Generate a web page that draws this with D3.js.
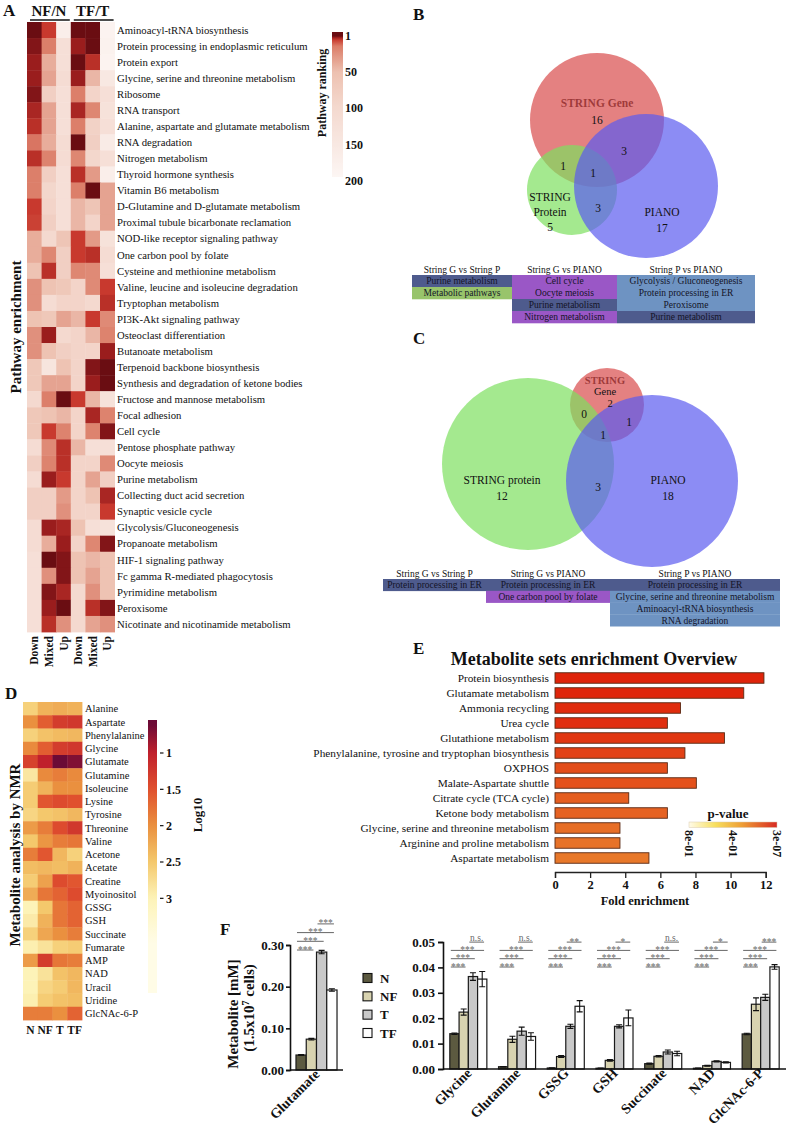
<!DOCTYPE html>
<html>
<head>
<meta charset="utf-8">
<title>Pathway and metabolite analysis</title>
<script src="https://cdn.jsdelivr.net/npm/d3@7/dist/d3.min.js"></script>
<style>
  body { margin: 0; background: #fff; }
  text { font-family: "Liberation Serif", "Times New Roman", serif; fill: #111; }
</style>
</head>
<body>
<svg id="fig" width="788" height="1133"></svg>
<script>
// ---------- A: pathway enrichment heatmap ----------
var pathways = [
  'Aminoacyl-tRNA biosynthesis', 'Protein processing in endoplasmic reticulum', 'Protein export',
  'Glycine, serine and threonine metabolism', 'Ribosome', 'RNA transport',
  'Alanine, aspartate and glutamate metabolism', 'RNA degradation', 'Nitrogen metabolism',
  'Thyroid hormone synthesis', 'Vitamin B6 metabolism', 'D-Glutamine and D-glutamate metabolism',
  'Proximal tubule bicarbonate reclamation', 'NOD-like receptor signaling pathway',
  'One carbon pool by folate', 'Cysteine and methionine metabolism',
  'Valine, leucine and isoleucine degradation', 'Tryptophan metabolism', 'PI3K-Akt signaling pathway',
  'Osteoclast differentiation', 'Butanoate metabolism', 'Terpenoid backbone biosynthesis',
  'Synthesis and degradation of ketone bodies', 'Fructose and mannose metabolism', 'Focal adhesion',
  'Cell cycle', 'Pentose phosphate pathway', 'Oocyte meiosis', 'Purine metabolism',
  'Collecting duct acid secretion', 'Synaptic vesicle cycle', 'Glycolysis/Gluconeogenesis',
  'Propanoate metabolism', 'HIF-1 signaling pathway', 'Fc gamma R-mediated phagocytosis',
  'Pyrimidine metabolism', 'Peroxisome', 'Nicotinate and nicotinamide metabolism'
];
var pathwayCols = ['Down', 'Mixed', 'Up', 'Down', 'Mixed', 'Up'];
var pathwayGroups = ['NF/N', 'TF/T'];
// pathway ranking (1 = top), columns as pathwayCols
var pathwayRank = [
  [1, 6, 170, 1, 1, 185], [2, 16, 120, 3, 1, 180], [3, 40, 120, 1, 5, 185],
  [3, 35, 110, 3, 45, 150], [2, 80, 120, 16, 90, 120], [4, 35, 120, 4, 20, 130],
  [5, 35, 120, 16, 85, 120], [14, 40, 110, 1, 80, 160], [5, 18, 110, 20, 95, 120],
  [16, 80, 120, 5, 30, 170], [16, 95, 120, 16, 1, 35], [6, 90, 120, 45, 60, 35],
  [7, 80, 120, 45, 90, 35], [40, 100, 60, 6, 30, 130], [40, 20, 80, 6, 5, 110],
  [55, 5, 80, 20, 22, 120], [25, 55, 65, 90, 22, 6], [25, 110, 90, 90, 100, 5],
  [55, 65, 35, 45, 6, 22], [25, 3, 100, 90, 45, 18], [25, 55, 80, 90, 90, 3],
  [65, 140, 55, 90, 2, 1], [65, 35, 35, 90, 3, 1], [100, 16, 1, 6, 45, 130],
  [65, 55, 45, 90, 4, 18], [65, 6, 18, 90, 18, 2], [110, 22, 5, 45, 120, 120],
  [80, 18, 5, 90, 90, 22], [110, 3, 6, 90, 35, 80], [80, 80, 30, 90, 55, 4],
  [80, 80, 25, 90, 90, 6], [110, 3, 4, 55, 120, 130], [110, 40, 3, 90, 20, 2],
  [120, 1, 2, 55, 45, 55], [120, 25, 2, 55, 35, 55], [120, 2, 4, 100, 25, 55],
  [120, 3, 1, 100, 5, 2], [120, 5, 25, 100, 35, 25]
];
var rankTicks = [1, 50, 100, 150, 200];

// ---------- B / C: Venn diagrams and overlap tables ----------
var vennSetsNF = ['STRING Gene', 'STRING Protein', 'PIANO'];
var vennOnlyNF = [16, 5, 17];
var vennPairNF = [1, 3, 3];        // Gene&Protein, Gene&PIANO, Protein&PIANO
var vennAllNF = 1;
var vennSetsTF = ['STRING Gene', 'STRING protein', 'PIANO'];
var vennOnlyTF = [2, 12, 18];
var vennPairTF = [0, 1, 3];
var vennAllTF = 1;

var tableHeaders = ['String G vs String P', 'String G vs PIANO', 'String P vs PIANO'];
// [pathway, overlap region]
var tableNF = [
  [['Purine metabolism', 'all'], ['Metabolic pathways', 'gp']],
  [['Cell cycle', 'gi'], ['Oocyte meiosis', 'gi'], ['Purine metabolism', 'all'], ['Nitrogen metabolism', 'gi']],
  [['Glycolysis / Gluconeogenesis', 'pi'], ['Protein processing in ER', 'pi'], ['Peroxisome', 'pi'], ['Purine metabolism', 'all']]
];
var tableTF = [
  [['Protein processing in ER', 'all']],
  [['Protein processing in ER', 'all'], ['One carbon pool by folate', 'gi']],
  [['Protein processing in ER', 'all'], ['Glycine, serine and threonine metabolism', 'pi'],
   ['Aminoacyl-tRNA biosynthesis', 'pi'], ['RNA degradation', 'pi']]
];

// ---------- D: NMR metabolite heatmap ----------
var nmrMetabolites = ['Alanine', 'Aspartate', 'Phenylalanine', 'Glycine', 'Glutamate', 'Glutamine',
  'Isoleucine', 'Lysine', 'Tyrosine', 'Threonine', 'Valine', 'Acetone', 'Acetate', 'Creatine',
  'Myoinositol', 'GSSG', 'GSH', 'Succinate', 'Fumarate', 'AMP', 'NAD', 'Uracil', 'Uridine', 'GlcNAc-6-P'];
var nmrGroups = ['N', 'NF', 'T', 'TF'];
var nmrLog10 = [
  [2.6, 2.3, 2.25, 2.3], [2.0, 1.6, 1.3, 1.25], [2.6, 2.45, 2.38, 2.35], [1.95, 1.6, 1.3, 1.25],
  [1.35, 1.0, 0.6, 0.7], [2.85, 1.95, 1.85, 1.95], [2.55, 2.3, 2.0, 2.0], [2.55, 1.55, 1.45, 1.5],
  [2.65, 2.5, 2.45, 2.35], [2.1, 1.85, 1.45, 1.25], [2.5, 2.05, 1.85, 1.8], [1.85, 1.55, 2.35, 2.6],
  [2.4, 2.35, 2.4, 2.3], [2.55, 2.15, 1.45, 1.55], [2.25, 1.8, 1.65, 1.45], [3.0, 2.5, 1.8, 1.65],
  [2.9, 2.3, 1.8, 1.65], [2.6, 2.2, 2.0, 1.85], [2.95, 2.8, 2.6, 2.55], [2.1, 1.3, 1.8, 1.85],
  [3.0, 2.8, 2.45, 2.35], [3.0, 2.65, 2.55, 2.35], [2.95, 2.55, 2.45, 2.4], [1.85, 1.85, 2.0, 1.65]
];
var log10Ticks = [1, 1.5, 2, 2.5, 3];

// ---------- E: metabolite set enrichment ----------
var msetNames = ['Protein biosynthesis', 'Glutamate metabolism', 'Ammonia recycling', 'Urea cycle',
  'Glutathione metabolism', 'Phenylalanine, tyrosine and tryptophan biosynthesis', 'OXPHOS',
  'Malate-Aspartate shuttle', 'Citrate cycle (TCA cycle)', 'Ketone body metabolism',
  'Glycine, serine and threonine metabolism', 'Arginine and proline metabolism', 'Aspartate metabolism'];
var msetFold = [11.9, 10.75, 7.15, 6.4, 9.65, 7.4, 6.4, 8.05, 4.2, 6.4, 3.7, 3.7, 5.35];
var msetP = [3e-7, 4e-7, 8e-7, 1e-6, 3e-6, 1e-5, 4e-5, 6e-5, 3e-4, 5e-4, 2e-3, 3e-3, 6e-3];
var foldTicks = [0, 2, 4, 6, 8, 10, 12];
var pLegendLabels = ['8e-01', '4e-01', '3e-07'];

// ---------- F: metabolite concentrations ----------
var cellGroups = ['N', 'NF', 'T', 'TF'];
var gluName = ['Glutamate'];
var gluMean = [0.036, 0.074, 0.283, 0.192];
var gluErr = [0.001, 0.002, 0.004, 0.003];
var gluTicks = [0, 0.1, 0.2, 0.3];
var metNames = ['Glycine', 'Glutamine', 'GSSG', 'GSH', 'Succinate', 'NAD', 'GlcNAc-6-P'];
var metMean = [
  [0.0139, 0.0224, 0.0364, 0.0354], [0.0009, 0.0117, 0.0149, 0.0128],
  [0.0004, 0.0049, 0.0168, 0.0247], [0.0003, 0.0034, 0.0168, 0.0201],
  [0.0021, 0.0050, 0.0067, 0.0061], [0.0003, 0.0013, 0.0030, 0.0026],
  [0.0138, 0.0255, 0.0282, 0.0402]
];
var metErr = [
  [0.0003, 0.0012, 0.0015, 0.003], [0.0001, 0.0012, 0.0016, 0.0015],
  [0.0001, 0.0004, 0.0008, 0.0022], [0.0001, 0.0003, 0.0006, 0.0031],
  [0.0002, 0.0003, 0.0008, 0.0009], [0.0001, 0.0002, 0.0002, 0.0002],
  [0.0003, 0.0025, 0.0012, 0.0009]
];
var metTicks = [0, 0.01, 0.02, 0.03, 0.04, 0.05];
var sigPairs = [['N', 'NF'], ['N', 'T'], ['N', 'TF'], ['T', 'TF']];
var gluSig = ['***', '***', '***', '***'];
var metSig = [
  ['***', '***', '***', 'n.s.'], ['***', '***', '***', 'n.s.'], ['***', '***', '***', '**'],
  ['***', '***', '***', '*'], ['***', '***', '***', 'n.s.'], ['***', '***', '***', '*'],
  ['***', '***', '***', '***']
];

var svg = d3.select('#fig');
var defs = svg.append('defs');

function panelLabel(t, x, y) {
  svg.append('text').attr('x', x).attr('y', y).attr('font-size', 17)
    .attr('font-weight', 'bold').text(t);
}

// ===== Panel A =====
panelLabel('A', 3, 16);
var colorA = d3.scaleLinear()
  .domain([1, 3, 6, 15, 50, 100, 150, 200])
  .range(['#6a0d12', '#9a1d1d', '#c8392e', '#db7d68', '#edc0b0', '#f4d9cf', '#f8e8e2', '#fdf8f6'])
  .clamp(true);

var xA = d3.scaleBand().domain(d3.range(pathwayCols.length)).range([27, 114.6]);
var yA = d3.scaleBand().domain(pathways).range([22, 632]);
var gA = svg.append('g');

pathwayRank.forEach(function(row, i) {
  gA.selectAll(null).data(row).join('rect')
    .attr('x', function(d, j) { return xA(j); })
    .attr('y', yA(pathways[i]))
    .attr('width', xA.bandwidth() + 0.4)
    .attr('height', yA.bandwidth() + 0.4)
    .attr('fill', function(d) { return colorA(d); });
});

gA.selectAll('text.pw').data(pathways).join('text')
  .attr('class', 'pw')
  .attr('x', 117).attr('y', function(d) { return yA(d) + yA.bandwidth() / 2; })
  .attr('dy', '0.35em').attr('font-size', 10.7).text(function(d) { return d; });

gA.selectAll('text.col').data(pathwayCols).join('text')
  .attr('class', 'col')
  .attr('transform', function(d, j) {
    return 'translate(' + (xA(j) + xA.bandwidth() / 2 + 4) + ',636) rotate(-90)';
  })
  .attr('text-anchor', 'end').attr('font-size', 11.5).attr('font-weight', 'bold')
  .text(function(d) { return d; });

pathwayGroups.forEach(function(grp, k) {
  var x0 = xA(k * 3), x1 = xA(k * 3 + 2) + xA.bandwidth();
  gA.append('text').attr('x', (x0 + x1) / 2).attr('y', 16).attr('text-anchor', 'middle')
    .attr('font-size', 15).attr('font-weight', 'bold').text(grp);
  gA.append('line').attr('x1', x0 + 3).attr('x2', x1 - 1).attr('y1', 20).attr('y2', 20)
    .attr('stroke', '#111').attr('stroke-width', 1.3);
});

gA.append('text').attr('transform', 'translate(21,327) rotate(-90)')
  .attr('text-anchor', 'middle').attr('font-size', 15).attr('font-weight', 'bold')
  .text('Pathway enrichment');

// colour bar
var rankY = d3.scaleLinear().domain([1, 200]).range([36, 181]);
var barTopA = 32, barBotA = 177;
var gradA = defs.append('linearGradient').attr('id', 'gradA')
  .attr('x1', 0).attr('y1', 0).attr('x2', 0).attr('y2', 1);
d3.range(1, 201, 2).forEach(function(r) {
  var off = Math.max(0, Math.min(1, (rankY(r) - barTopA) / (barBotA - barTopA)));
  gradA.append('stop').attr('offset', off).attr('stop-color', colorA(r));
});
gA.append('rect').attr('x', 332).attr('y', barTopA).attr('width', 11)
  .attr('height', barBotA - barTopA).attr('fill', 'url(#gradA)');
gA.selectAll('text.rt').data(rankTicks).join('text')
  .attr('class', 'rt')
  .attr('x', 345).attr('y', function(d) { return rankY(d); }).attr('dy', '0.35em')
  .attr('font-size', 12).attr('font-weight', 'bold').text(function(d) { return d; });
gA.append('text').attr('transform', 'translate(326,93) rotate(-90)')
  .attr('text-anchor', 'middle').attr('font-size', 12).attr('font-weight', 'bold')
  .text('Pathway ranking');

// ===== Panels B and C =====
var regionFill = { all: '#4e5b8d', gp: '#98c46b', gi: '#9a57c6', pi: '#6e93c2' };
var circleFill = ['#d94c4c', '#7ee060', '#5b5bf0'];

function drawVenn(g, circles, labels) {
  g.selectAll('circle').data(circles).join('circle')
    .attr('cx', function(d) { return d.cx; }).attr('cy', function(d) { return d.cy; })
    .attr('r', function(d) { return d.r; })
    .attr('fill', function(d, i) { return circleFill[i]; }).attr('fill-opacity', 0.7);
  g.selectAll('text').data(labels).join('text')
    .attr('x', function(d) { return d.x; }).attr('y', function(d) { return d.y; })
    .attr('dy', '0.35em').attr('text-anchor', 'middle')
    .attr('font-size', function(d) { return d.fs || 11.5; })
    .text(function(d) { return d.t; });
}

function drawTable(g, cols, edges, headY, top, rowH) {
  var yRow = d3.scaleBand().domain(d3.range(4)).range([top, top + 4 * rowH]);
  cols.forEach(function(col, ci) {
    var x0 = edges[ci], x1 = edges[ci + 1];
    g.append('text').attr('x', (x0 + x1) / 2).attr('y', headY).attr('text-anchor', 'middle')
      .attr('font-size', 9.5).text(tableHeaders[ci]);
    g.selectAll(null).data(col).join('rect')
      .attr('x', x0).attr('width', x1 - x0)
      .attr('y', function(d, i) { return yRow(i); }).attr('height', yRow.bandwidth() + 0.3)
      .attr('fill', function(d) { return regionFill[d[1]]; });
    g.selectAll(null).data(col).join('text')
      .attr('x', (x0 + x1) / 2).attr('y', function(d, i) { return yRow(i) + yRow.bandwidth() / 2; })
      .attr('dy', '0.35em').attr('text-anchor', 'middle').attr('font-size', 9.5)
      .style('fill', '#141428').text(function(d) { return d[0]; });
  });
}

// B
panelLabel('B', 413, 20);
var gB = svg.append('g');
gB.append('text').attr('x', 595).attr('y', 45).attr('text-anchor', 'middle')
  .attr('font-size', 15).attr('font-weight', 'bold').text('Pathway analysis integration NF/N');
drawVenn(gB,
  [{ cx: 597, cy: 120, r: 67 }, { cx: 572, cy: 190, r: 45 }, { cx: 646, cy: 186, r: 72 }],
  [{ x: 597, y: 103, t: vennSetsNF[0] }, { x: 597, y: 120, t: vennOnlyNF[0] },
   { x: 550, y: 197, t: vennSetsNF[1].split(' ')[0] }, { x: 550, y: 212, t: vennSetsNF[1].split(' ')[1] },
   { x: 550, y: 227, t: vennOnlyNF[1] },
   { x: 662, y: 212, t: vennSetsNF[2] }, { x: 662, y: 228, t: vennOnlyNF[2] },
   { x: 563, y: 166, t: vennPairNF[0] }, { x: 624, y: 151, t: vennPairNF[1] },
   { x: 598, y: 208, t: vennPairNF[2] }, { x: 593, y: 173, t: vennAllNF }]);
drawTable(gB, tableNF, [412, 512, 617, 755], 273, 275, 12);

// C
panelLabel('C', 413, 344);
var gC = svg.append('g');
gC.append('text').attr('x', 595).attr('y', 363).attr('text-anchor', 'middle')
  .attr('font-size', 15).attr('font-weight', 'bold').text('Pathway analysis integration TF/T');
drawVenn(gC,
  [{ cx: 607, cy: 405, r: 37 }, { cx: 528, cy: 464, r: 86 }, { cx: 652, cy: 481, r: 86 }],
  [{ x: 605, y: 380, t: vennSetsTF[0].split(' ')[0], fs: 10.5 },
   { x: 605, y: 391.5, t: vennSetsTF[0].split(' ')[1], fs: 10.5 },
   { x: 610, y: 403, t: vennOnlyTF[0], fs: 10.5 },
   { x: 502, y: 480, t: vennSetsTF[1] }, { x: 502, y: 496, t: vennOnlyTF[1] },
   { x: 668, y: 480, t: vennSetsTF[2] }, { x: 668, y: 496, t: vennOnlyTF[2] },
   { x: 584, y: 414, t: vennPairTF[0] }, { x: 629, y: 422, t: vennPairTF[1] },
   { x: 598, y: 487, t: vennPairTF[2] }, { x: 603, y: 435, t: vennAllTF }]);
drawTable(gC, tableTF, [383, 486, 610, 780], 577, 579, 11.8);

// ===== Panel D =====
panelLabel('D', 5, 699);
var colorD = d3.scaleLinear()
  .domain([0.6, 1, 1.5, 2, 2.5, 3, 3.6])
  .range(['#6b0a36', '#c0202c', '#e0502e', '#ea903f', '#f4c86c', '#fdf3b8', '#fffce6'])
  .clamp(true);
var xD = d3.scaleBand().domain(nmrGroups).range([23, 82]);
var yD = d3.scaleBand().domain(nmrMetabolites).range([702, 1020]);
var gD = svg.append('g');
nmrLog10.forEach(function(row, i) {
  gD.selectAll(null).data(row).join('rect')
    .attr('x', function(d, j) { return xD(nmrGroups[j]); })
    .attr('y', yD(nmrMetabolites[i]))
    .attr('width', xD.bandwidth() + 0.4).attr('height', yD.bandwidth() + 0.4)
    .attr('fill', function(d) { return colorD(d); });
});
gD.selectAll('text.met').data(nmrMetabolites).join('text')
  .attr('class', 'met')
  .attr('x', 85).attr('y', function(d) { return yD(d) + yD.bandwidth() / 2; })
  .attr('dy', '0.35em').attr('font-size', 10.5).text(function(d) { return d; });
gD.selectAll('text.grp').data(nmrGroups).join('text')
  .attr('class', 'grp')
  .attr('x', function(d) { return xD(d) + xD.bandwidth() / 2; }).attr('y', 1034)
  .attr('text-anchor', 'middle').attr('font-size', 11.5).attr('font-weight', 'bold')
  .text(function(d) { return d; });
gD.append('text').attr('transform', 'translate(20,855) rotate(-90)')
  .attr('text-anchor', 'middle').attr('font-size', 15).attr('font-weight', 'bold')
  .text('Metabolite analysis by NMR');

var logY = d3.scaleLinear().domain([1, 2.5]).range([753, 862]);
var barTopD = 720, barBotD = 993;
var gradD = defs.append('linearGradient').attr('id', 'gradD')
  .attr('x1', 0).attr('y1', 0).attr('x2', 0).attr('y2', 1);
d3.range(0, 1.0001, 0.02).forEach(function(t) {
  var v = logY.invert(barTopD + t * (barBotD - barTopD));
  gradD.append('stop').attr('offset', t).attr('stop-color', colorD(v));
});
gD.append('rect').attr('x', 148).attr('y', barTopD).attr('width', 9)
  .attr('height', barBotD - barTopD).attr('fill', 'url(#gradD)');
gD.selectAll('line.lt').data(log10Ticks).join('line')
  .attr('class', 'lt')
  .attr('x1', 160).attr('x2', 163.5)
  .attr('y1', function(d) { return logY(d); }).attr('y2', function(d) { return logY(d); })
  .attr('stroke', '#111').attr('stroke-width', 1.2);
gD.selectAll('text.lt').data(log10Ticks).join('text')
  .attr('class', 'lt')
  .attr('x', 166).attr('y', function(d) { return logY(d); }).attr('dy', '0.35em')
  .attr('font-size', 12).attr('font-weight', 'bold').text(function(d) { return d; });
gD.append('text').attr('transform', 'translate(202,815) rotate(-90)')
  .attr('text-anchor', 'middle').attr('font-size', 13).attr('font-weight', 'bold').text('Log10');

// ===== Panel E =====
panelLabel('E', 413, 654);
var gE = svg.append('g');
gE.append('text').attr('x', 594).attr('y', 665).attr('text-anchor', 'middle')
  .attr('font-size', 18).attr('font-weight', 'bold').text('Metabolite sets enrichment Overview');
var xE = d3.scaleLinear().domain([0, 12]).range([555, 765.7]);
var yE = d3.scaleBand().domain(msetNames).range([670.5, 865.5]).paddingInner(0.3).paddingOuter(0.15);
var colorP = d3.scaleLinear().domain([-6.5, -2.2]).range(['#df240a', '#e8782a']).clamp(true);
gE.selectAll('rect.bar').data(msetNames).join('rect')
  .attr('class', 'bar')
  .attr('x', xE(0)).attr('y', function(d) { return yE(d); })
  .attr('width', function(d, i) { return xE(msetFold[i]) - xE(0); })
  .attr('height', yE.bandwidth())
  .attr('fill', function(d, i) { return colorP(Math.log10(msetP[i])); })
  .attr('stroke', '#5a2a14').attr('stroke-width', 0.9);
gE.selectAll('text.lab').data(msetNames).join('text')
  .attr('class', 'lab')
  .attr('x', 549).attr('y', function(d) { return yE(d) + yE.bandwidth() / 2; })
  .attr('dy', '0.35em').attr('text-anchor', 'end').attr('font-size', 11.3)
  .text(function(d) { return d; });
var axE = gE.append('g').attr('transform', 'translate(0,872)')
  .call(d3.axisBottom(xE).tickValues(foldTicks).tickSize(6).tickPadding(2));
axE.attr('font-size', 12.5).attr('font-weight', 'bold');
axE.selectAll('path,line').attr('stroke', '#222').attr('stroke-width', 1.3);
gE.append('text').attr('x', 645).attr('y', 905).attr('text-anchor', 'middle')
  .attr('font-size', 12.5).attr('font-weight', 'bold').text('Fold enrichment');

// p-value legend
var pX = d3.scalePoint().domain(pLegendLabels).range([689, 777]);
var gradE = defs.append('linearGradient').attr('id', 'gradE');
[['0', '#fffbe8'], ['0.3', '#f7df5e'], ['0.6', '#ee9e35'], ['1', '#d82a22']].forEach(function(s) {
  gradE.append('stop').attr('offset', s[0]).attr('stop-color', s[1]);
});
gE.append('text').attr('x', 728).attr('y', 818).attr('text-anchor', 'middle')
  .attr('font-size', 13).attr('font-weight', 'bold').text('p-value');
gE.append('rect').attr('x', pX.range()[0]).attr('y', 822)
  .attr('width', pX.range()[1] - pX.range()[0]).attr('height', 5.5)
  .attr('fill', 'url(#gradE)').attr('stroke', '#d9c9b0').attr('stroke-width', 0.5);
gE.selectAll('text.pl').data(pLegendLabels).join('text')
  .attr('class', 'pl')
  .attr('transform', function(d) { return 'translate(' + (pX(d) - 4) + ',830) rotate(90)'; })
  .attr('font-size', 12).attr('font-weight', 'bold').text(function(d) { return d; });

// ===== Panel F =====
panelLabel('F', 220, 935);
var gF = svg.append('g');
var barFill = { N: '#5c5a40', NF: '#d8d3b0', T: '#c9c9c9', TF: '#ffffff' };

function drawGroupedBars(g, names, means, errs, sigs, xScale, yScale, sigBase, sigStep) {
  var xi = d3.scaleBand().domain(cellGroups).range([0, xScale.bandwidth()]);
  names.forEach(function(name, gi) {
    var x0 = xScale(name);
    var grp = g.append('g');
    grp.selectAll('rect').data(means[gi]).join('rect')
      .attr('x', function(d, j) { return x0 + xi(cellGroups[j]); })
      .attr('y', function(d) { return yScale(d); })
      .attr('width', xi.bandwidth())
      .attr('height', function(d) { return yScale(0) - yScale(d); })
      .attr('fill', function(d, j) { return barFill[cellGroups[j]]; })
      .attr('stroke', '#1a1a1a').attr('stroke-width', 1.2);
    // error bars
    means[gi].forEach(function(m, j) {
      var cx = x0 + xi(cellGroups[j]) + xi.bandwidth() / 2;
      var e = errs[gi][j];
      grp.append('path')
        .attr('d', 'M' + (cx - 3) + ',' + yScale(m + e) + 'H' + (cx + 3) +
          'M' + cx + ',' + yScale(m + e) + 'V' + yScale(Math.max(0, m - e)) +
          'M' + (cx - 3) + ',' + yScale(Math.max(0, m - e)) + 'H' + (cx + 3))
        .attr('stroke', '#111').attr('stroke-width', 1.1).attr('fill', 'none');
    });
    // significance brackets
    sigPairs.forEach(function(pair, k) {
      var xa = x0 + xi(pair[0]) + 1;
      var xb = x0 + xi(pair[1]) + xi.bandwidth() * 0.7;
      var yy = sigBase - k * sigStep;
      grp.append('line').attr('x1', xa).attr('x2', xb).attr('y1', yy).attr('y2', yy)
        .attr('stroke', '#666').attr('stroke-width', 1);
      var lab = sigs[gi][k];
      grp.append('text').attr('x', (xa + xb) / 2)
        .attr('y', lab === 'n.s.' ? yy - 1.5 : yy + 2.5)
        .attr('text-anchor', 'middle').attr('font-size', 9.5)
        .style('fill', '#666').text(lab);
    });
    // rotated category label
    g.append('text')
      .attr('transform', 'translate(' + (x0 + xScale.bandwidth() / 2 + 4) + ',' + (yScale(0) + 5) + ') rotate(-45)')
      .attr('text-anchor', 'end').attr('font-size', 14).attr('font-weight', 'bold').text(name);
  });
}

// left: glutamate
var yF1 = d3.scaleLinear().domain([0, 0.3]).range([1070, 945]);
var xF1 = d3.scaleBand().domain(gluName).range([290, 343]).paddingInner(0).paddingOuter(0.146);
drawGroupedBars(gF, gluName, [gluMean], [gluErr], [gluSig], xF1, yF1, 950, 8.7);
var axF1 = gF.append('g').attr('transform', 'translate(290,0)')
  .call(d3.axisLeft(yF1).tickValues(gluTicks).tickFormat(d3.format('.2f')).tickSize(4).tickPadding(2));
var axF1x = gF.append('g').attr('transform', 'translate(0,1070)')
  .call(d3.axisBottom(xF1).tickSize(0).tickFormat(''));
axF1x.select('.domain').attr('d', 'M290,0H343');

// right: other metabolites
var yF2 = d3.scaleLinear().domain([0, 0.05]).range([1069, 942]);
var xF2 = d3.scaleBand().domain(metNames).range([443, 786]).paddingInner(0.24).paddingOuter(0.14);
drawGroupedBars(gF, metNames, metMean, metErr, metSig, xF2, yF2, 967, 8.3);
var axF2 = gF.append('g').attr('transform', 'translate(443,0)')
  .call(d3.axisLeft(yF2).tickValues(metTicks).tickFormat(d3.format('.2f')).tickSize(5).tickPadding(3));
var axF2x = gF.append('g').attr('transform', 'translate(0,1069)')
  .call(d3.axisBottom(xF2).tickSize(0).tickFormat(''));
axF2x.select('.domain').attr('d', 'M443,0H786');

[axF1, axF2, axF1x, axF2x].forEach(function(a) {
  a.attr('font-size', 13).attr('font-weight', 'bold');
  a.selectAll('path,line').attr('stroke', '#111').attr('stroke-width', 1.6);
});

// y axis title
var yt = gF.append('text').attr('transform', 'translate(238,1014) rotate(-90)')
  .attr('text-anchor', 'middle').attr('font-size', 15).attr('font-weight', 'bold');
yt.text('Metabolite [mM]');
var yt2 = gF.append('text').attr('transform', 'translate(254,1008) rotate(-90)')
  .attr('text-anchor', 'middle').attr('font-size', 15).attr('font-weight', 'bold');
yt2.append('tspan').text('(1.5x10');
yt2.append('tspan').attr('dy', -5).attr('font-size', 10).text('7');
yt2.append('tspan').attr('dy', 5).text(' cells)');

// legend
var legY = d3.scalePoint().domain(cellGroups).range([978, 1033]);
gF.selectAll('rect.leg').data(cellGroups).join('rect')
  .attr('class', 'leg')
  .attr('x', 363).attr('y', function(d) { return legY(d) - 4.5; }).attr('width', 9).attr('height', 9)
  .attr('fill', function(d) { return barFill[d]; }).attr('stroke', '#111').attr('stroke-width', 1.1);
gF.selectAll('text.leg').data(cellGroups).join('text')
  .attr('class', 'leg')
  .attr('x', 380).attr('y', function(d) { return legY(d); }).attr('dy', '0.35em')
  .attr('font-size', 13).attr('font-weight', 'bold').text(function(d) { return d; });
</script>
</body>
</html>
